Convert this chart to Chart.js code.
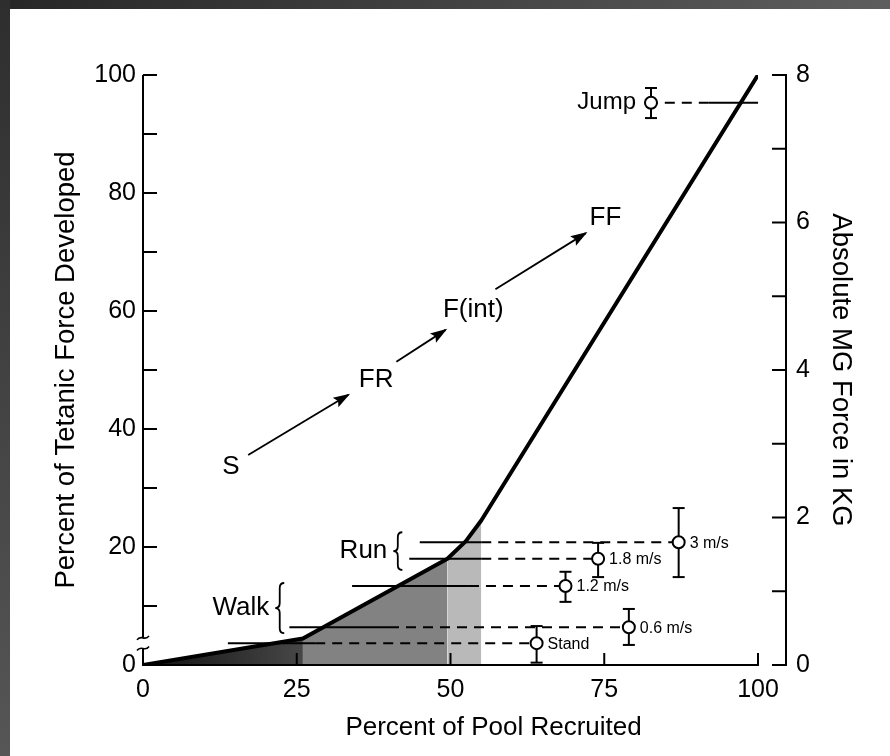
<!DOCTYPE html>
<html>
<head>
<meta charset="utf-8">
<script src="https://cdn.jsdelivr.net/npm/chart.js@4.4.1/dist/chart.umd.min.js"></script>
<style>
html, body { margin: 0; padding: 0; background: #fff; }
canvas { display: block; }
</style>
</head>
<body>
<canvas id="chart" width="890" height="756"></canvas>
<script>
// recruitment curve: percent of pool recruited vs percent of tetanic force
const poolPct = [0, 26, 49.5, 52.5, 55, 100];
const forcePct = [0, 4.5, 18, 21, 24.5, 100];

// shaded bands under the curve (split at curve points)
const shadeEdges = [0, 26, 49.5, 55];
const shadeColors = ['#2c2c2c', '#828282', '#b9b9b9'];

// tasks: force level, mean pool recruited, error range
const tasks = ['Stand', '0.6 m/s', '1.2 m/s', '1.8 m/s', '3 m/s', 'Jump'];
const taskForce = [3.7, 6.4, 13.4, 18, 20.8, 95.3];
const taskPool = [64, 79, 68.7, 74, 87.1, 82.6];
const taskHigh = [6.6, 9.5, 15.8, 20.7, 26.6, 97.8];
const taskLow = [0.4, 3.4, 10.7, 14.9, 14.9, 92.7];
const lineFrom = [13.8, 23.8, 34, 43.3, 45, 100];
const solidTo = [28, 40, 53, 55, 55, 92];

// fibre type sequence S -> FR -> F(int) -> FF
const fibres = ['S', 'FR', 'F(int)', 'FF'];
const fibrePool = [14.3, 37.9, 53.7, 75.2];
const fibreForce = [33.6, 48.3, 60.2, 75.8];
const arrowFromX = [17.1, 41.2, 57.3];
const arrowFromY = [35.6, 51.4, 63.7];
const arrowToX = [33.4, 49.2, 72];
const arrowToY = [45.8, 56.8, 73.2];

// braces for Walk / Run groups
const braces = ['Walk', 'Run'];
const braceTip = [21.5, 40.7];
const braceTop = [13.9, 22.5];
const braceBottom = [5.4, 16.1];

const xTicks = [0, 25, 50, 75, 100];
const FONT = '"Liberation Sans", Arial, Helvetica, sans-serif';
const RIGHT_GAP = 28; // right axis sits a bit right of x = 100

const datasets = [];

// open circles on top
datasets.push({
  data: taskPool.map((x, i) => ({ x: x, y: taskForce[i] })),
  showLine: false,
  pointStyle: 'circle',
  pointRadius: 6,
  pointBackgroundColor: '#fff',
  pointBorderColor: '#000',
  pointBorderWidth: 2,
  order: -3
});

// main curve
datasets.push({
  data: poolPct.map((x, i) => ({ x: x, y: forcePct[i] })),
  showLine: true,
  borderColor: '#000',
  borderWidth: 4,
  pointRadius: 0,
  borderJoinStyle: 'round',
  order: -2
});

// level lines (solid part + dashed part) and error bars
tasks.forEach((t, i) => {
  datasets.push({
    data: [{ x: lineFrom[i], y: taskForce[i] }, { x: solidTo[i], y: taskForce[i] }],
    showLine: true, borderColor: '#000', borderWidth: 2, pointRadius: 0, clip: false, order: 1
  });
  datasets.push({
    data: [{ x: solidTo[i], y: taskForce[i] }, { x: taskPool[i], y: taskForce[i] }],
    showLine: true, borderColor: '#000', borderWidth: 2, borderDash: [10, 7], pointRadius: 0, order: 1
  });
  datasets.push({
    data: [{ x: taskPool[i], y: taskLow[i] }, { x: taskPool[i], y: taskHigh[i] }],
    showLine: true, borderColor: '#000', borderWidth: 2,
    pointStyle: 'line', pointRadius: 6, pointBorderColor: '#000', pointBorderWidth: 2, order: 0
  });
});

// arrows between fibre types
arrowFromX.forEach((x, i) => {
  datasets.push({
    data: [{ x: x, y: arrowFromY[i] }, { x: arrowToX[i], y: arrowToY[i] }],
    showLine: true, borderColor: '#000', borderWidth: 1.8, pointRadius: 0, arrow: true, order: 1
  });
});

// shaded bands
for (let b = 0; b < shadeEdges.length - 1; b++) {
  const pts = [];
  poolPct.forEach((x, i) => {
    if (x >= shadeEdges[b] && x <= shadeEdges[b + 1]) pts.push({ x: x, y: forcePct[i] });
  });
  datasets.push({
    data: pts,
    showLine: true,
    borderColor: 'transparent',
    borderWidth: 0,
    pointRadius: 0,
    fill: 'origin',
    backgroundColor: b === 0 ? function (ctx) {
      const c = ctx.chart;
      if (!c.chartArea) return shadeColors[0];
      const xs = c.scales.x;
      const g = c.ctx.createLinearGradient(xs.getPixelForValue(0), 0, xs.getPixelForValue(shadeEdges[1]), 0);
      g.addColorStop(0, '#111');
      g.addColorStop(1, '#474747');
      return g;
    } : shadeColors[b],
    order: 10
  });
}

function brace(ctx, x, top, bot, w) {
  const mid = (top + bot) / 2, r = 5;
  ctx.beginPath();
  ctx.moveTo(x + w, top);
  ctx.quadraticCurveTo(x + w / 2, top, x + w / 2, top + r);
  ctx.lineTo(x + w / 2, mid - r);
  ctx.quadraticCurveTo(x + w / 2, mid, x, mid);
  ctx.quadraticCurveTo(x + w / 2, mid, x + w / 2, mid + r);
  ctx.lineTo(x + w / 2, bot - r);
  ctx.quadraticCurveTo(x + w / 2, bot, x + w, bot);
  ctx.stroke();
}

const overlay = {
  id: 'overlay',
  beforeDraw(chart) {
    const ctx = chart.ctx, W = chart.width, H = chart.height;
    ctx.save();
    ctx.fillStyle = '#fff';
    ctx.fillRect(0, 0, W, H);
    let g = ctx.createLinearGradient(0, 0, W, 0);
    g.addColorStop(0, '#262626');
    g.addColorStop(1, '#5e5e5e');
    ctx.fillStyle = g;
    ctx.fillRect(0, 0, W, 9);
    g = ctx.createLinearGradient(0, 0, 0, H);
    g.addColorStop(0, '#2e2e2e');
    g.addColorStop(1, '#565656');
    ctx.fillStyle = g;
    ctx.fillRect(0, 0, 10, H);
    ctx.restore();
  },
  afterDatasetsDraw(chart) {
    const ctx = chart.ctx;
    const xs = chart.scales.x, ys = chart.scales.y, y2 = chart.scales.y2;
    const L = xs.getPixelForValue(0), R = xs.getPixelForValue(100);
    const T = ys.getPixelForValue(100), B = ys.getPixelForValue(0);
    const RA = R + RIGHT_GAP;
    ctx.save();
    ctx.strokeStyle = '#000';
    ctx.fillStyle = '#000';
    ctx.lineWidth = 2;
    ctx.lineCap = 'butt';

    // axis lines
    ctx.beginPath();
    ctx.moveTo(L, T); ctx.lineTo(L, B);
    ctx.moveTo(L - 1, B); ctx.lineTo(R + 1, B);
    ctx.moveTo(RA, T - 1); ctx.lineTo(RA, B + 1);
    ctx.stroke();

    // inward tick marks
    ctx.beginPath();
    ys.ticks.forEach(t => {
      if (t.value === 0) return;
      const p = ys.getPixelForValue(t.value);
      ctx.moveTo(L, p); ctx.lineTo(L + 14, p);
    });
    y2.ticks.forEach(t => {
      const p = y2.getPixelForValue(t.value);
      ctx.moveTo(RA, p); ctx.lineTo(RA - 14, p);
    });
    xTicks.forEach(v => {
      if (v === 0) return;
      const p = xs.getPixelForValue(v);
      ctx.moveTo(p, B); ctx.lineTo(p, B - 12);
    });
    ctx.stroke();

    // axis break on the left axis
    const b1 = ys.getPixelForValue(4.6), b2 = ys.getPixelForValue(2.8);
    ctx.fillStyle = '#fff';
    ctx.fillRect(L - 3, b1, 6, b2 - b1);
    ctx.lineWidth = 1.6;
    [b1, b2].forEach(p => {
      ctx.beginPath();
      ctx.moveTo(L - 6, p + 2);
      ctx.bezierCurveTo(L - 2, p - 4, L + 2, p + 4, L + 6, p - 2);
      ctx.stroke();
    });
    ctx.fillStyle = '#000';

    // arrowheads
    chart.data.datasets.forEach((ds, i) => {
      if (!ds.arrow) return;
      const m = chart.getDatasetMeta(i);
      const p0 = m.data[0], p1 = m.data[1];
      const a = Math.atan2(p1.y - p0.y, p1.x - p0.x);
      ctx.save();
      ctx.translate(p1.x, p1.y);
      ctx.rotate(a);
      ctx.beginPath();
      ctx.moveTo(2, 0);
      ctx.lineTo(-15, -5.5);
      ctx.lineTo(-12, 0);
      ctx.lineTo(-15, 5.5);
      ctx.closePath();
      ctx.fill();
      ctx.restore();
    });

    // fibre labels
    ctx.textBaseline = 'middle';
    ctx.textAlign = 'center';
    ctx.font = '26px ' + FONT;
    fibres.forEach((f, i) => {
      ctx.fillText(f, xs.getPixelForValue(fibrePool[i]), ys.getPixelForValue(fibreForce[i]));
    });

    // braces + labels
    ctx.lineWidth = 1.8;
    braces.forEach((name, i) => {
      const x = xs.getPixelForValue(braceTip[i]);
      brace(ctx, x, ys.getPixelForValue(braceTop[i]), ys.getPixelForValue(braceBottom[i]), 9);
      ctx.textAlign = 'right';
      ctx.font = '26px ' + FONT;
      ctx.fillText(name, x - 6, ys.getPixelForValue((braceTop[i] + braceBottom[i]) / 2));
    });

    // task labels next to points
    tasks.forEach((t, i) => {
      const px = xs.getPixelForValue(taskPool[i]), py = ys.getPixelForValue(taskForce[i]);
      if (t === 'Jump') {
        ctx.font = '24px ' + FONT;
        ctx.textAlign = 'right';
        ctx.fillText(t, px - 15, py);
      } else {
        ctx.font = '16px ' + FONT;
        ctx.textAlign = 'left';
        ctx.fillText(t, px + 11, py + 1);
      }
    });

    // x axis title (sits right of centre in the original)
    ctx.font = '26px ' + FONT;
    ctx.textAlign = 'center';
    ctx.fillText('Percent of Pool Recruited', xs.getPixelForValue(57), 728);
    ctx.restore();
  }
};

new Chart(document.getElementById('chart'), {
  type: 'scatter',
  data: { datasets: datasets },
  options: {
    responsive: false,
    animation: false,
    layout: { padding: { top: 75, left: 0, right: 0, bottom: 0 } },
    plugins: { legend: { display: false }, tooltip: { enabled: false } },
    scales: {
      x: {
        type: 'linear', min: 0, max: 100,
        afterBuildTicks: s => { s.ticks = xTicks.map(v => ({ value: v })); },
        afterFit: s => { s.height = 91; },
        grid: { display: false, drawTicks: false },
        border: { display: false },
        ticks: { color: '#000', padding: 10, autoSkip: false, maxRotation: 0, font: { family: FONT, size: 25 } },
        title: { display: false }
      },
      y: {
        type: 'linear', position: 'left', min: 0, max: 100,
        afterFit: s => { s.width = 143; },
        grid: { display: false, drawTicks: false },
        border: { display: false },
        ticks: { stepSize: 10, autoSkip: false, color: '#000', padding: 7,
          callback: v => (v % 20 === 0 ? v : ''), font: { family: FONT, size: 25 } },
        title: { display: true, text: 'Percent of Tetanic Force Developed', color: '#000', padding: { top: 50 }, font: { family: FONT, size: 27.5 } }
      },
      y2: {
        type: 'linear', position: 'right', min: 0, max: 8,
        afterFit: s => { s.width = 132; },
        grid: { display: false, drawTicks: false },
        border: { display: false },
        ticks: { stepSize: 1, autoSkip: false, color: '#000', padding: 38,
          callback: v => (v % 2 === 0 ? v : ''), font: { family: FONT, size: 25 } },
        title: { display: true, text: 'Absolute MG Force in KG', color: '#000', padding: { top: 33 }, font: { family: FONT, size: 27.5 } }
      }
    }
  },
  plugins: [overlay]
});
</script>
